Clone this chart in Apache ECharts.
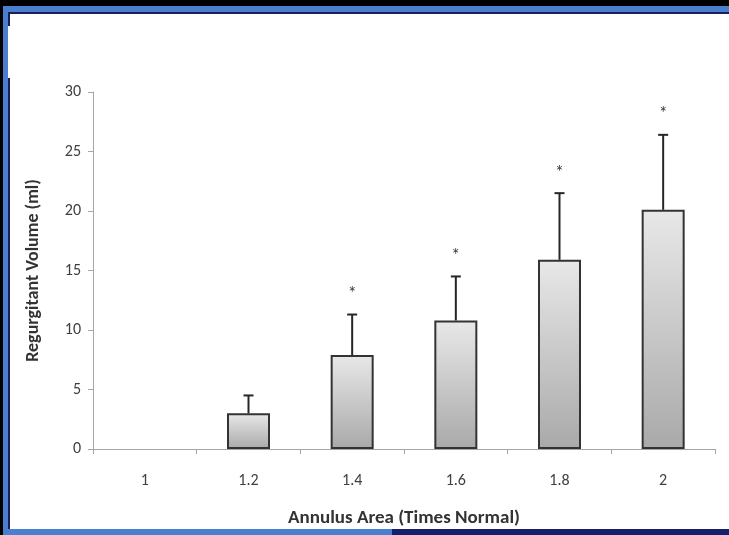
<!DOCTYPE html>
<html>
<head>
<meta charset="utf-8">
<script src="https://cdn.jsdelivr.net/npm/echarts@6/dist/echarts.min.js"></script>
<style>
  html, body { margin: 0; padding: 0; background: #000; overflow: hidden; }
  .frame { position: absolute; left: 3px; top: 6px; width: 800px; height: 600px; background: #4a7fd0; }
  .paper { position: absolute; left: 8px; top: 12px; width: 800px; height: 515px; background: #fff;
           border-top: 2px solid #1a1f5c; border-left: 2px solid #1a1f5c; }
  .gap { position: absolute; left: 8px; top: 26px; width: 3px; height: 52px; background: #fff; }
  .navy { position: absolute; left: 392px; top: 529px; width: 400px; height: 6px; background: #16206a; }
  #chart { position: absolute; left: 0; top: 0; width: 729px; height: 535px; }
</style>
</head>
<body>
<div class="frame"></div>
<div class="paper"></div>
<div class="gap"></div>
<div class="navy"></div>
<div id="chart"></div>
<script>
// annulus area, times normal
const categories = ['1', '1.2', '1.4', '1.6', '1.8', '2']
// regurgitant volume (ml), mean and SD
const means = [0, 3.0, 7.9, 10.8, 15.9, 20.1]
const errors = [0, 1.5, 3.4, 3.7, 5.6, 6.3]
const starred = [false, false, true, true, true, true]
const yTicks = [0, 5, 10, 15, 20, 25, 30]

const font = "Carlito, Lato, 'Liberation Sans', sans-serif"

const chartDom = document.getElementById('chart')
const myChart = echarts.init(chartDom, null, { renderer: 'canvas' })

const barData = means.map((v) => ({
    value: v,
    itemStyle: v === 0 ? { borderWidth: 0, opacity: 0 } : {}
}))

const errData = means.map((v, i) => [i, v, v + errors[i], starred[i] ? 1 : 0])

const option = {
    animation: false,
    backgroundColor: 'transparent',
    grid: { left: 93, right: 14, top: 92, bottom: 86 },
    xAxis: {
        type: 'category',
        data: categories,
        name: 'Annulus Area (Times Normal)',
        nameLocation: 'middle',
        nameGap: 60,
        nameTextStyle: { fontFamily: font, fontSize: 19, fontWeight: 'bold', color: '#333' },
        axisLine: { lineStyle: { color: '#a6a6a6', width: 1 } },
        axisTick: { show: true, length: 5, lineStyle: { color: '#a6a6a6' } },
        axisLabel: { margin: 24, fontFamily: font, fontSize: 16, color: '#404040' }
    },
    yAxis: {
        type: 'value',
        min: yTicks[0],
        max: yTicks[yTicks.length - 1],
        interval: 5,
        name: 'Regurgitant Volume (ml)',
        nameLocation: 'middle',
        nameGap: 51,
        nameTextStyle: { fontFamily: font, fontSize: 18, fontWeight: 'bold', color: '#333' },
        axisLine: { show: true, lineStyle: { color: '#a6a6a6', width: 1 } },
        axisTick: { show: true, length: 5, lineStyle: { color: '#a6a6a6' } },
        splitLine: { show: false },
        axisLabel: { margin: 12, fontFamily: font, fontSize: 16, color: '#404040' }
    },
    series: [
        {
            type: 'bar',
            data: barData,
            barWidth: 43,
            itemStyle: {
                color: new echarts.graphic.LinearGradient(0, 0, 0, 1, [
                    { offset: 0, color: '#e8e8e8' },
                    { offset: 1, color: '#a9a9a9' }
                ]),
                borderColor: '#333',
                borderWidth: 2
            },
            z: 2
        },
        {
            type: 'custom',
            data: errData,
            z: 3,
            renderItem: (params, api) => {
                const idx = api.value(0)
                const lo = api.value(1)
                const hi = api.value(2)
                if (hi <= lo) return null
                const p0 = api.coord([idx, lo])
                const p1 = api.coord([idx, hi])
                const style = { stroke: '#262626', lineWidth: 2 }
                const children = [
                    { type: 'line', shape: { x1: p0[0], y1: p0[1], x2: p1[0], y2: p1[1] }, style },
                    { type: 'line', shape: { x1: p1[0] - 5, y1: p1[1], x2: p1[0] + 5, y2: p1[1] }, style }
                ]
                if (api.value(3)) {
                    children.push({
                        type: 'text',
                        style: {
                            text: '*', x: p1[0], y: p1[1] - 20,
                            align: 'center', verticalAlign: 'middle',
                            font: '18px ' + font, fill: '#333'
                        }
                    })
                }
                return { type: 'group', children }
            }
        }
    ]
}

myChart.setOption(option)
window.onresize = () => {
    myChart.resize()
}
</script>
</body>
</html>
